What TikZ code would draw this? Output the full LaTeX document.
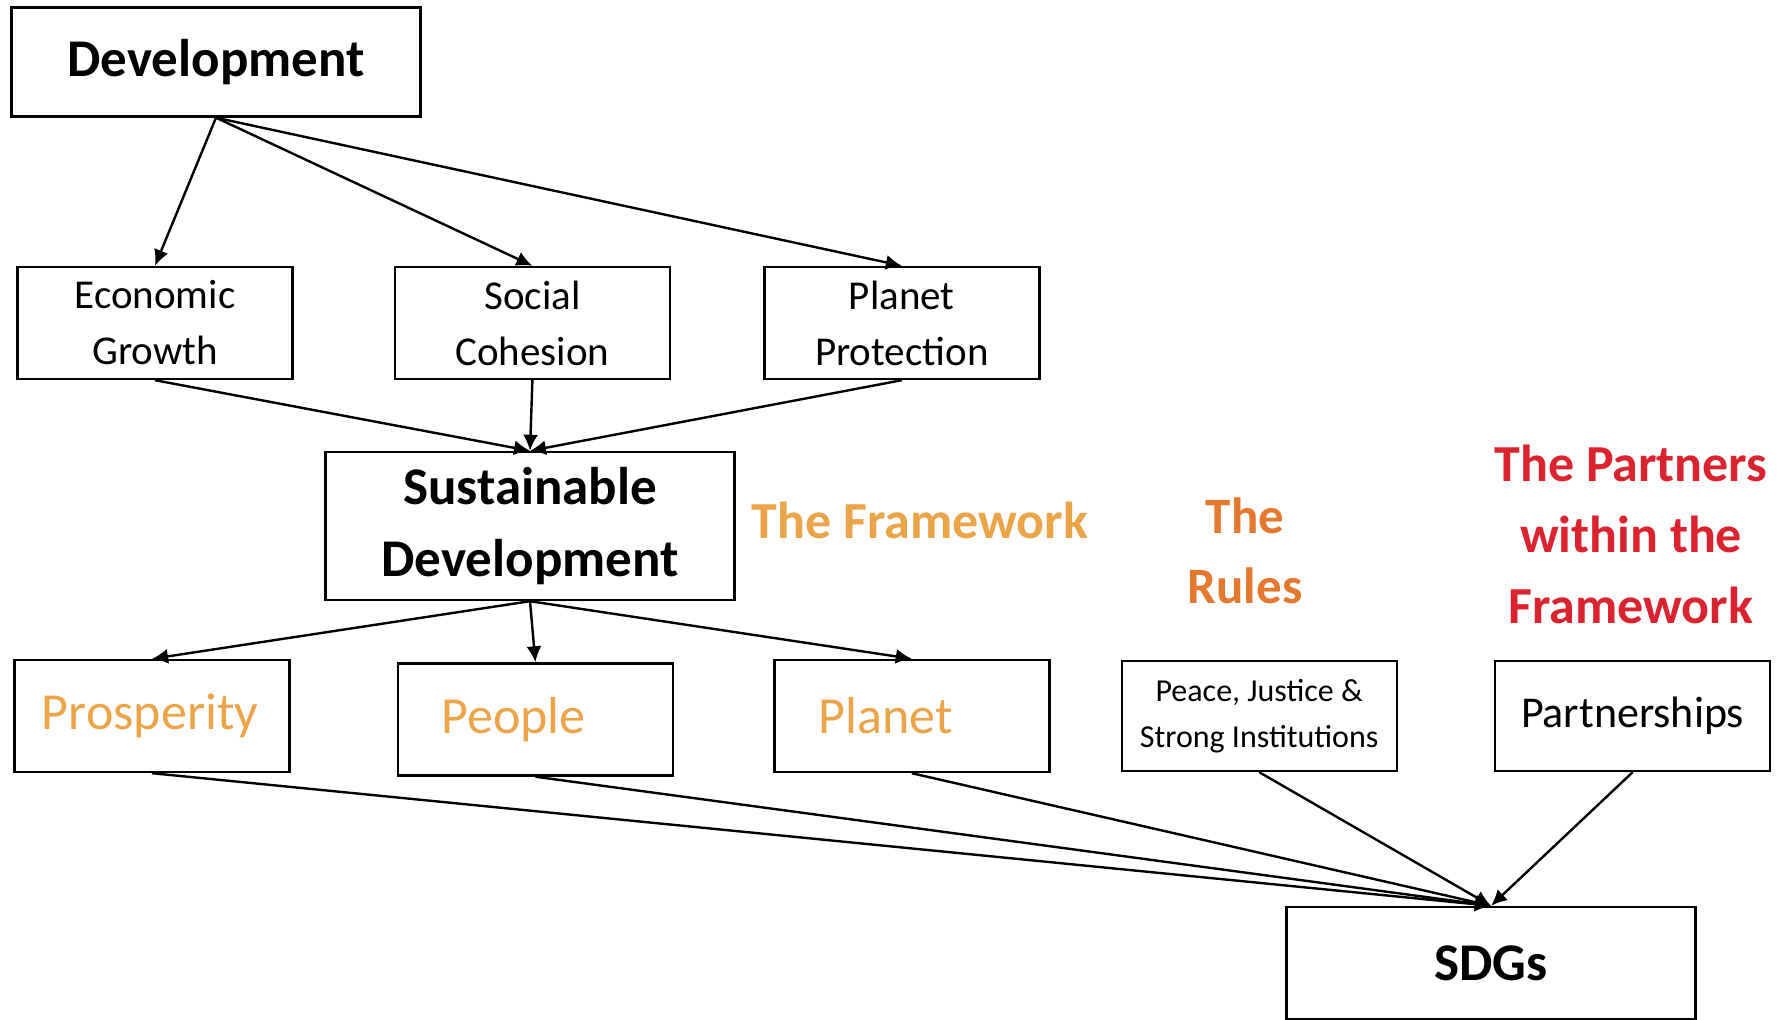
\documentclass[tikz,border=0pt]{standalone}
\usepackage{fontspec}
\setmainfont{Carlito}
\usepackage{xcolor}
\usepackage{tikz}
\usetikzlibrary{positioning}
\usetikzlibrary{arrows.meta}
\tikzset{>={Latex[width=7.5pt,length=8pt]}}
\definecolor{frameorange}{HTML}{EBA447}
\definecolor{rulesorange}{HTML}{E4782F}
\definecolor{partnerred}{HTML}{D9232E}

\begin{document}
\begin{tikzpicture}[x=0.5pt, y=-0.5pt, box/.style={rectangle, draw=black, line width=1.2pt, inner sep=0pt, minimum width=137.5pt, minimum height=56pt, align=center, font=\fontsize{20.5}{28}\selectfont}, bigbox/.style={rectangle, draw=black, line width=1.2pt, inner sep=0pt, minimum width=204.5pt, minimum height=54.5pt, align=center, font=\fontsize{26.5}{36}\selectfont\bfseries}, pillar/.style={box, text=frameorange, font=\fontsize{26}{30}\selectfont}, headnode/.style={draw=none, inner sep=0pt, align=center, font=\fontsize{26}{35.5}\selectfont\bfseries}, every path/.style={line width=1.2pt}]
    \useasboundingbox (0,0) rectangle (1780,1020);

    %Nodes
    \node[bigbox](dev) at (216,62){Development};
    \node[box](econ) at (155,323){Economic\\Growth};
    \node[box](social)[right=50pt of econ]{Social\\Cohesion};
    \node[box](protect)[right=46pt of social]{Planet\\Protection};
    \node[bigbox, minimum height=74pt](sustdev) at (530,526){Sustainable\\Development};
    \node[pillar](prosperity) at (152,716){Prosperity\hspace*{2pt}};
    \node[pillar](people)[right=53pt of prosperity, yshift=-1.75pt]{People\hspace*{22pt}};
    \node[pillar](planet)[right=49.5pt of people, yshift=1.75pt]{Planet\hspace*{26pt}};
    \node[box, minimum height=55pt, font=\fontsize{16}{23}\selectfont](peace)[right=35pt of planet]{Peace, Justice \&\\Strong Institutions};
    \node[box, minimum height=55pt, font=\fontsize{22}{26}\selectfont](partners)[right=48pt of peace]{Partnerships};
    \node[bigbox, minimum height=56pt](sdgs) at (1491,963){SDGs};
    \node[headnode, text=frameorange](framework) at (920,520){The Framework};
    \node[headnode, text=rulesorange, font=\fontsize{25.5}{35}\selectfont\bfseries](rules) at (1245,551){The\\Rules};
    \node[headnode, text=partnerred](partnertext) at (1631,534){The Partners\\within the\\Framework};

    %Lines
    \draw[->] (dev.south) -- (econ.north);
    \draw[->] (dev.south) -- (social.north);
    \draw[->] (dev.south) -- (protect.north);
    \draw[->] (econ.south) -- (sustdev.north);
    \draw[->] (social.south) -- (sustdev.north);
    \draw[->] (protect.south) -- (sustdev.north);
    \draw[->] (sustdev.south) -- (prosperity.north);
    \draw[->] (sustdev.south) -- (people.north);
    \draw[->] (sustdev.south) -- (planet.north);
    \draw[->] (prosperity.south) -- (sdgs.north);
    \draw[->] (people.south) -- (sdgs.north);
    \draw[->] (planet.south) -- (sdgs.north);
    \draw[->] (peace.south) -- (sdgs.north);
    \draw[->] (partners.south) -- (sdgs.north);

\end{tikzpicture}
\end{document}
